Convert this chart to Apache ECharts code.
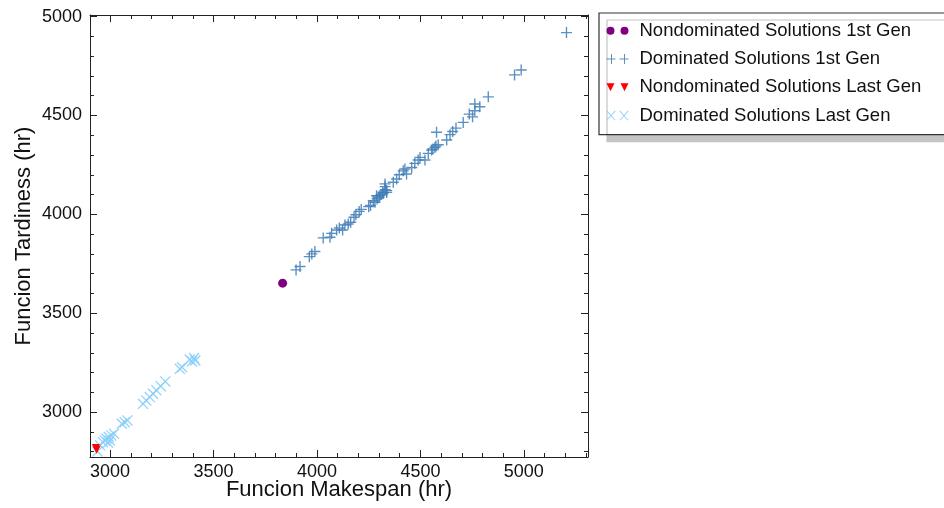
<!DOCTYPE html>
<html>
<head>
<meta charset="utf-8">
<script src="https://cdn.jsdelivr.net/npm/echarts@6/dist/echarts.min.js"></script>
<style>
  html, body { margin: 0; padding: 0; background: #ffffff; }
  #chart { width: 944px; height: 508px; }
</style>
</head>
<body>
<div id="chart"></div>
<script>
// Makespan / tardiness values of each solution group
const nondom1Makespan = [3834];
const nondom1Tardiness = [3652];

const dom1Makespan = [3899, 3918, 3963, 3975, 3990, 4030, 4063, 4071, 4095, 4108, 4124, 4135, 4151, 4163, 4179, 4188, 4204, 4214, 4250, 4259, 4272, 4280, 4288, 4291, 4300, 4304, 4310, 4318, 4320, 4329, 4329, 4330, 4337, 4337, 4369, 4385, 4398, 4417, 4425, 4433, 4458, 4473, 4489, 4498, 4522, 4538, 4554, 4560, 4570, 4575, 4578, 4586, 4627, 4643, 4656, 4672, 4707, 4736, 4752, 4763, 4763, 4787, 4828, 4955, 4987, 5206];
const dom1Tardiness = [3719, 3736, 3786, 3800, 3812, 3881, 3884, 3904, 3921, 3931, 3921, 3946, 3951, 3960, 3985, 3998, 4015, 4025, 4039, 4045, 4069, 4061, 4094, 4078, 4085, 4094, 4100, 4112, 4106, 4154, 4140, 4125, 4111, 4120, 4162, 4179, 4200, 4220, 4229, 4204, 4237, 4258, 4275, 4288, 4275, 4308, 4325, 4330, 4338, 4345, 4415, 4352, 4376, 4403, 4419, 4436, 4465, 4507, 4493, 4524, 4558, 4544, 4594, 4705, 4730, 4919];

const nondomLastMakespan = [2931, 2935];
const nondomLastTardiness = [2818, 2810];

const domLastMakespan = [2939, 2952, 2966, 2974, 2982, 2990, 2994, 2999, 3006, 3019, 3057, 3071, 3084, 3159, 3175, 3192, 3208, 3224, 3245, 3267, 3337, 3348, 3385, 3396, 3406, 3412];
const domLastTardiness = [2801, 2832, 2848, 2857, 2866, 2845, 2874, 2857, 2882, 2891, 2941, 2949, 2958, 3042, 3059, 3076, 3093, 3110, 3131, 3155, 3219, 3227, 3266, 3256, 3273, 3261];

const seriesNames = ['Nondominated Solutions 1st Gen', 'Dominated Solutions 1st Gen', 'Nondominated Solutions Last Gen', 'Dominated Solutions Last Gen'];

// Tick positions
const xMajorTicks = [3000, 3500, 4000, 4500, 5000];
const xMinorTicks = [2900, 3100, 3200, 3300, 3400, 3600, 3700, 3800, 3900, 4100, 4200, 4300, 4400, 4600, 4700, 4800, 4900, 5100, 5200, 5300];
const yMajorTicks = [3000, 3500, 4000, 4500, 5000];
const yMinorTicks = [2800, 2900, 3100, 3200, 3300, 3400, 3600, 3700, 3800, 3900, 4100, 4200, 4300, 4400, 4600, 4700, 4800, 4900];

const X_MIN = 2903, X_MAX = 5310, Y_MIN = 2773, Y_MAX = 5008;

function pairs(xs, ys) { return xs.map((v, i) => [v, ys[i]]); }

// Marker shapes
const PLUS = 'path://M0,5.25 H12 V6.75 H0 Z M5.25,0 H6.75 V12 H5.25 Z';
const CROSS = 'path://M0,1 L1,0 L12,11 L11,12 Z M11,0 L12,1 L1,12 L0,11 Z';
const PLUS2 = 'path://M0,4.5 H9 V5.5 H0 Z M4.5,0 H5.5 V10 H4.5 Z M13,4.5 H22 V5.5 H13 Z M17.5,0 H18.5 V10 H17.5 Z';
const CROSS2 = 'path://M0,0.7 L0.7,0 L9,9.3 L8.3,10 Z M8.3,0 L9,0.7 L0.7,10 L0,9.3 Z M13,0.7 L13.7,0 L22,9.3 L21.3,10 Z M21.3,0 L22,0.7 L13.7,10 L13,9.3 Z';
const DOTS2 = 'path://M0,4 A4,4 0 1,1 8,4 A4,4 0 1,1 0,4 Z M14,4 A4,4 0 1,1 22,4 A4,4 0 1,1 14,4 Z';
const TRI2 = 'path://M0,0 L8,0 L4,8 Z M14,0 L22,0 L18,8 Z';

const TEXT = '#111111';
const FONT = 'Liberation Sans, Arial, sans-serif';
const plainNumber = v => String(v);

function xAxisPart(position, ticks, len, showLine, labels) {
  return {
    type: 'value', position: position, min: X_MIN, max: X_MAX, gridIndex: 0,
    axisLine: { show: showLine, onZero: false, lineStyle: { color: '#222', width: 1 } },
    axisTick: { show: true, inside: true, length: len, customValues: ticks, lineStyle: { color: '#222', width: 1 } },
    axisLabel: labels ? { show: true, customValues: ticks, formatter: plainNumber, margin: 6, color: TEXT, fontSize: 18, fontFamily: FONT } : { show: false },
    splitLine: { show: false }
  };
}
function yAxisPart(position, ticks, len, showLine, labels) {
  return {
    type: 'value', position: position, min: Y_MIN, max: Y_MAX, gridIndex: 0,
    axisLine: { show: showLine, onZero: false, lineStyle: { color: '#222', width: 1 } },
    axisTick: { show: true, inside: true, length: len, customValues: ticks, lineStyle: { color: '#222', width: 1 } },
    axisLabel: labels ? { show: true, customValues: ticks, formatter: plainNumber, margin: 8, color: TEXT, fontSize: 18, fontFamily: FONT } : { show: false },
    splitLine: { show: false }
  };
}

const xAxes = [
  xAxisPart('bottom', xMajorTicks, 7, true, true),
  xAxisPart('bottom', xMinorTicks, 4, false, false),
  xAxisPart('top', xMajorTicks, 7, true, false),
  xAxisPart('top', xMinorTicks, 4, false, false)
];
Object.assign(xAxes[0], {
  name: 'Funcion Makespan (hr)', nameLocation: 'middle', nameGap: 22, nameMoveOverlap: false,
  nameTextStyle: { color: TEXT, fontSize: 22, fontFamily: FONT }
});
const yAxes = [
  yAxisPart('left', yMajorTicks, 7, true, true),
  yAxisPart('left', yMinorTicks, 4, false, false),
  yAxisPart('right', yMajorTicks, 7, true, false),
  yAxisPart('right', yMinorTicks, 4, false, false)
];
Object.assign(yAxes[0], {
  name: 'Funcion Tardiness (hr)', nameLocation: 'middle', nameGap: 55, nameMoveOverlap: false,
  nameTextStyle: { color: TEXT, fontSize: 22, fontFamily: FONT }
});

const chart = echarts.init(document.getElementById('chart'), null, { renderer: 'canvas' });
chart.setOption({
  backgroundColor: '#ffffff',
  animation: false,
  grid: { left: 90, top: 15, width: 498, height: 442, containLabel: false },
  xAxis: xAxes,
  yAxis: yAxes,
  legend: {
    orient: 'vertical', left: 599, top: 13,
    padding: [7.7, 30, 9, 7.5],
    itemWidth: 22, itemHeight: 11, itemGap: 8.3,
    backgroundColor: '#ffffff', borderColor: '#333333', borderWidth: 1.2, borderRadius: 0,
    shadowColor: '#c4c4c4', shadowBlur: 0, shadowOffsetX: 8, shadowOffsetY: 7,
    textStyle: { color: TEXT, fontSize: 18.5, fontFamily: FONT, lineHeight: 20, padding: [0, 0, 0, 6] },
    data: [
      { name: seriesNames[0], icon: DOTS2 },
      { name: seriesNames[1], icon: PLUS2 },
      { name: seriesNames[2], icon: TRI2 },
      { name: seriesNames[3], icon: CROSS2 }
    ]
  },
  series: [
    {
      name: seriesNames[0], type: 'scatter', xAxisIndex: 0, yAxisIndex: 0, z: 5,
      symbol: 'circle', symbolSize: 9,
      itemStyle: { color: '#800080', opacity: 1 },
      data: pairs(nondom1Makespan, nondom1Tardiness)
    },
    {
      name: seriesNames[1], type: 'scatter', xAxisIndex: 0, yAxisIndex: 0, z: 3,
      symbol: PLUS, symbolSize: 11,
      itemStyle: { color: '#3f7cb6', opacity: 0.85 },
      data: pairs(dom1Makespan, dom1Tardiness)
    },
    {
      name: seriesNames[2], type: 'scatter', xAxisIndex: 0, yAxisIndex: 0, z: 5,
      symbol: 'triangle', symbolRotate: 180, symbolSize: 8,
      itemStyle: { color: '#ff0000', opacity: 1 },
      data: pairs(nondomLastMakespan, nondomLastTardiness)
    },
    {
      name: seriesNames[3], type: 'scatter', xAxisIndex: 0, yAxisIndex: 0, z: 3,
      symbol: CROSS, symbolSize: 11,
      itemStyle: { color: '#87cefa', opacity: 0.9 },
      data: pairs(domLastMakespan, domLastTardiness)
    }
  ]
});
</script>
</body>
</html>
